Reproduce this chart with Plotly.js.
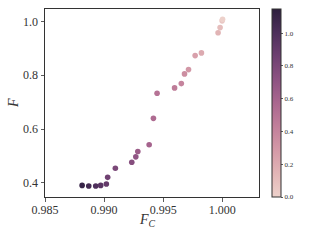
<!DOCTYPE html>
<html>
<head>
<meta charset="utf-8">
<script src="https://cdn.plot.ly/plotly-3.0.1.min.js"></script>
<style>html,body{margin:0;padding:0;background:#fff;}#chart{width:320px;height:240px;}</style>
</head>
<body>
<div id="chart"></div>
<script>
// Data
const fc = [0.98814, 0.98870, 0.98929, 0.98971, 0.99019, 0.99030, 0.99095, 0.99234, 0.99268, 0.99285,
            0.99381, 0.99417, 0.99448, 0.99596, 0.99653, 0.99680, 0.99714, 0.99770, 0.99823, 0.99964,
            0.99981, 0.99998, 1.00002];
const f  = [0.391, 0.389, 0.389, 0.391, 0.396, 0.421, 0.455, 0.477, 0.497, 0.517,
            0.542, 0.640, 0.733, 0.753, 0.769, 0.805, 0.821, 0.873, 0.883, 0.958,
            0.977, 1.002, 1.008];
const param = [1.10, 1.05, 1.00, 0.95, 0.90, 0.85, 0.80, 0.75, 0.70, 0.65,
               0.60, 0.55, 0.50, 0.45, 0.40, 0.35, 0.30, 0.25, 0.20, 0.15,
               0.10, 0.05, 0.00];
const xTicks = [0.985, 0.990, 0.995, 1.000];
const yTicks = [0.4, 0.6, 0.8, 1.0];
const cTicks = [0.0, 0.2, 0.4, 0.6, 0.8, 1.0];
const xLabel = '<i>F</i><sub><i>C</i></sub>';
const yLabel = '<i>F</i>';

const cubehelix = [
  [0.0, '#edd1cb'], [0.125, '#e2b5b6'], [0.25, '#d499a7'], [0.375, '#c17f9a'],
  [0.5, '#aa678f'], [0.625, '#8d5282'], [0.75, '#6e4071'], [0.875, '#4d2f5b'], [1.0, '#2d1e3e']
];

const serif = 'Liberation Serif, DejaVu Serif, serif';

const trace = {
  type: 'scatter', mode: 'markers',
  x: fc, y: f,
  marker: {
    size: 5.6, color: param, colorscale: cubehelix, cmin: 0, cmax: 1.147,
    line: {width: 0},
    showscale: true,
    colorbar: {
      x: 1.0607, xanchor: 'left', xref: 'paper', xpad: 0,
      y: 0.5, yanchor: 'middle', ypad: 0, len: 1, lenmode: 'fraction',
      thickness: 9, outlinewidth: 1, outlinecolor: '#333',
      tickvals: cTicks, tickformat: '.1f', ticks: 'outside', ticklen: 2, tickwidth: 0.8, tickcolor: '#333',
      tickfont: {family: serif, size: 7, color: '#333'}
    }
  },
  hoverinfo: 'none'
};

const layout = {
  width: 320, height: 240,
  margin: {l: 45, r: 60.7, t: 9.3, b: 43.3, pad: 0},
  paper_bgcolor: '#fff', plot_bgcolor: '#fff',
  showlegend: false,
  xaxis: {
    range: [0.985, 1.0031], tickvals: xTicks, tickformat: '.3f',
    showgrid: false, zeroline: false, showline: true, mirror: true, linecolor: '#333', linewidth: 1,
    ticks: 'outside', ticklen: 3.5, tickwidth: 0.8, tickcolor: '#333', ticklabelstandoff: -2,
    tickfont: {family: serif, size: 12, color: '#333'}
  },
  yaxis: {
    range: [0.348, 1.046], tickvals: yTicks, tickformat: '.1f',
    showgrid: false, zeroline: false, showline: true, mirror: true, linecolor: '#333', linewidth: 1,
    ticks: 'outside', ticklen: 3.5, tickwidth: 0.8, tickcolor: '#333',
    tickfont: {family: serif, size: 12, color: '#333'}
  },
  annotations: [
    {text: xLabel, xref: 'paper', yref: 'paper', x: 0.4806, y: -0.127, xanchor: 'center', yanchor: 'middle',
     showarrow: false, font: {family: serif, size: 14, color: '#333'}},
    {text: yLabel, xref: 'paper', yref: 'paper', x: -0.149, y: 0.5, xanchor: 'center', yanchor: 'middle',
     textangle: -90, showarrow: false, font: {family: serif, size: 14, color: '#333'}}
  ]
};

Plotly.newPlot('chart', [trace], layout, {staticPlot: true, displayModeBar: false});
</script>
</body>
</html>
